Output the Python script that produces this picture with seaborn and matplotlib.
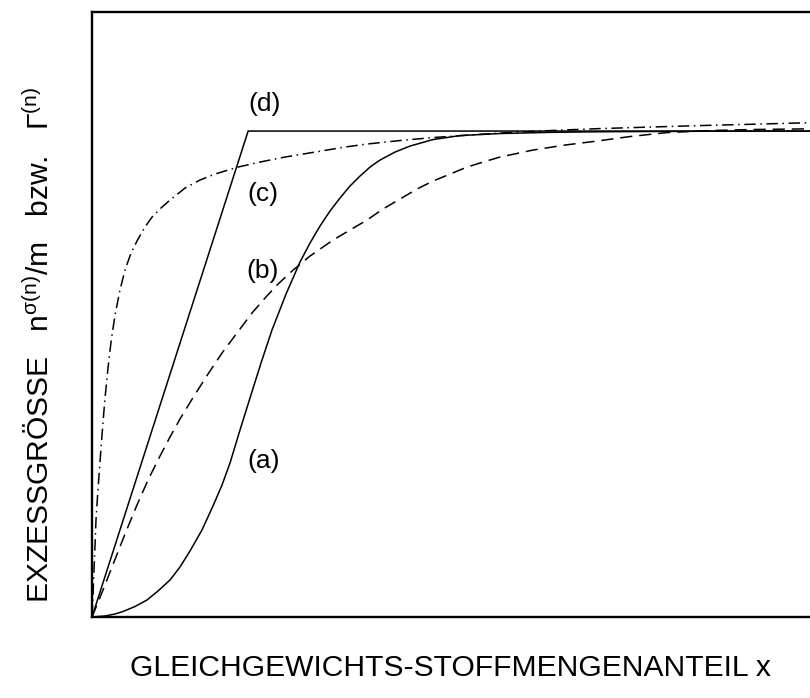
import matplotlib
matplotlib.use("Agg")
import matplotlib.pyplot as plt
import seaborn as sns

# Equilibrium mole fraction (normalised) and excess quantity (normalised to plateau)
x_a = [0.0, 0.0176, 0.0311, 0.0419, 0.0581, 0.0743, 0.0892, 0.1054, 0.1189,
       0.1324, 0.1486, 0.1635, 0.1757, 0.1865, 0.2000, 0.2135, 0.2284, 0.2432,
       0.2622, 0.2811, 0.2946, 0.3081, 0.3216, 0.3351, 0.3486, 0.3622, 0.3757,
       0.3892, 0.4095, 0.4297, 0.4608, 0.4973, 0.5514, 0.6189, 0.6865, 0.8216,
       1.0]
y_a = [0.0, 0.0021, 0.0062, 0.0113, 0.0216, 0.0350, 0.0535, 0.0761, 0.1029,
       0.1358, 0.1790, 0.2284, 0.2716, 0.3169, 0.3848, 0.4506, 0.5226, 0.5905,
       0.6646, 0.7305, 0.7695, 0.8045, 0.8354, 0.8621, 0.8868, 0.9074, 0.9259,
       0.9403, 0.9568, 0.9691, 0.9825, 0.9907, 0.9949, 0.9973, 0.9986, 0.9996,
       1.0]

x_b = [0.0, 0.0149, 0.0297, 0.0446, 0.0608, 0.0757, 0.0919, 0.1054, 0.1189,
       0.1378, 0.1568, 0.1757, 0.1959, 0.2162, 0.2338, 0.2514, 0.2703, 0.2946,
       0.3257, 0.3486, 0.3716, 0.3932, 0.4162, 0.4392, 0.4608, 0.4838, 0.5068,
       0.5284, 0.5514, 0.5959, 0.6392, 0.6824, 0.7270, 0.7770, 0.8351, 0.8892,
       0.9432, 1.0]
y_b = [0.0, 0.0556, 0.1132, 0.1708, 0.2305, 0.2819, 0.3313, 0.3704, 0.4074,
       0.4547, 0.5000, 0.5432, 0.5844, 0.6255, 0.6564, 0.6852, 0.7119, 0.7428,
       0.7757, 0.7963, 0.8169, 0.8395, 0.8601, 0.8807, 0.8971, 0.9115, 0.9259,
       0.9362, 0.9465, 0.9609, 0.9712, 0.9794, 0.9887, 0.9969, 1.0010, 1.0031,
       1.0041, 1.0051]

x_c = [0.0, 0.0014, 0.0027, 0.0041, 0.0054, 0.0074, 0.0095, 0.0122, 0.0149,
       0.0176, 0.0216, 0.0257, 0.0311, 0.0378, 0.0446, 0.0527, 0.0622, 0.0716,
       0.0811, 0.0932, 0.1054, 0.1257, 0.1459, 0.1662, 0.1973, 0.2270, 0.2608,
       0.3014, 0.3419, 0.3716, 0.4162, 0.4608, 0.5108, 0.5514, 0.6189, 0.6865,
       0.7541, 0.8216, 0.9027, 1.0]
y_c = [0.0, 0.0453, 0.0967, 0.1481, 0.1996, 0.2469, 0.2922, 0.3477, 0.4012,
       0.4506, 0.5123, 0.5658, 0.6214, 0.6728, 0.7140, 0.7490, 0.7778, 0.8025,
       0.8230, 0.8416, 0.8580, 0.8827, 0.8992, 0.9115, 0.9259, 0.9362, 0.9465,
       0.9568, 0.9671, 0.9733, 0.9805, 0.9866, 0.9918, 0.9959, 1.0010, 1.0051,
       1.0082, 1.0113, 1.0144, 1.0185]

x_d = [0.0, 0.211, 1.0]
y_d = [0.0, 1.0, 1.0]

curve_names = ["(a)", "(b)", "(c)", "(d)"]
label_x = [0.232, 0.231, 0.231, 0.233]
label_y = [0.321, 0.712, 0.870, 1.056]

x_title = "GLEICHGEWICHTS-STOFFMENGENANTEIL x"
y_title = "EXZESSGRÖSSE   n$^{σ(n)}$/m   bzw.   $Γ^{(n)}$"

sns.set_style("white")
plt.rcParams["font.family"] = ["Liberation Sans", "DejaVu Sans"]
plt.rcParams["mathtext.default"] = "regular"

fig = plt.figure(figsize=(8.10, 6.98), dpi=100)
ax = fig.add_axes([92 / 810, 81 / 698, 740 / 810, 605 / 698])

lw = 1.1
curves = [
    (x_a, y_a, None),
    (x_b, y_b, (8.0, 4.5)),
    (x_c, y_c, (7.5, 3.0, 1.0, 3.0)),
    (x_d, y_d, None),
]
for xs, ys, dash in curves:
    sns.lineplot(x=xs, y=ys, ax=ax, color="black", linewidth=lw,
                 estimator=None, sort=False)
    if dash is not None:
        ax.lines[-1].set_dashes(dash)

for name, lx, ly in zip(curve_names, label_x, label_y):
    ax.text(lx, ly, name, ha="center", va="center", fontsize=19, color="black")

ax.set_xlim(0, 1)
ax.set_ylim(0, 1.245)
ax.set_xticks([])
ax.set_yticks([])
for sp in ax.spines.values():
    sp.set_linewidth(1.7)
    sp.set_color("black")

fig.text(450 / 810, 1 - 668 / 698, x_title, ha="center", va="center",
         fontsize=21.6, color="black")
fig.text(40 / 810, 1 - 345 / 698, y_title, ha="center", va="center",
         rotation=90, fontsize=21.6, color="black")

fig.savefig("out.png", dpi=100)
